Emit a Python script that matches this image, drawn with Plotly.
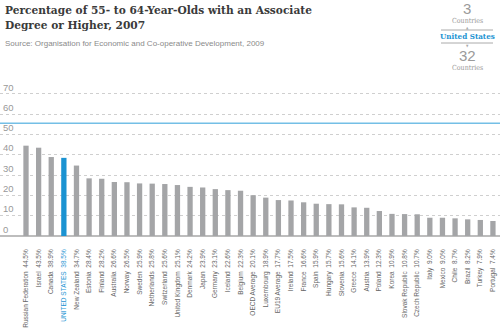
import plotly.graph_objects as go

countries = ["Russian Federation", "Israel", "Canada", "UNITED STATES", "New Zealand", "Estonia",
             "Finland", "Australia", "Norway", "Sweden", "Netherlands", "Switzerland",
             "United Kingdom", "Denmark", "Japan", "Germany", "Iceland", "Belgium",
             "OECD Average", "Luxembourg", "EU19 Average", "Ireland", "France", "Spain",
             "Hungary", "Slovenia", "Greece", "Austria", "Poland", "Korea",
             "Slovak Republic", "Czech Republic", "Italy", "Mexico", "Chile", "Brazil",
             "Turkey", "Portugal"]
values = [44.5, 43.5, 38.9, 38.5, 34.7, 28.4, 28.2, 26.6, 26.5, 25.9, 25.8, 25.6,
          25.1, 24.2, 23.9, 23.1, 22.6, 22.3, 20.1, 18.9, 17.7, 17.5, 16.6, 15.9,
          15.7, 15.6, 14.1, 13.9, 12.3, 10.9, 10.8, 10.7, 9.0, 9.0, 8.7, 8.2, 7.9, 7.4]
highlight = "UNITED STATES"
reference_level = 55.5
y_ticks = [0, 10, 20, 30, 40, 50, 60, 70]

GRAY = "#a4a5a7"
BLUE = "#1b93d2"
LINE_BLUE = "#74bfe6"

W, H = 500, 333
M_T, M_B, M_L, M_R = 78, 97, 0, 0
PH = H - M_T - M_B
Y_MAX = PH / 2.03


def py(ypx):
    return 1 - (ypx - M_T) / PH


def px(xpx):
    return xpx / W


colors = [BLUE if c == highlight else GRAY for c in countries]
ticktext = []
for c, v in zip(countries, values):
    t = f"{c}\u00a0 {v:.1f}%"
    if c == highlight:
        t = f"<span style='color:{BLUE}'>{t}</span>"
    ticktext.append(t)

fig = go.Figure()
fig.add_trace(go.Bar(x=list(range(len(countries))), y=values, marker_color=colors,
                     marker_line_width=0, width=0.42))

fig.add_hline(y=reference_level, line_color=LINE_BLUE, line_width=1.5)

fig.update_layout(
    width=W, height=H,
    margin=dict(l=M_L, r=M_R, t=M_T, b=M_B, autoexpand=False),
    paper_bgcolor="white", plot_bgcolor="white",
    showlegend=False,
    font=dict(family="Liberation Sans Narrow, Arial Narrow, sans-serif", color="#777"),
    xaxis=dict(range=[-2.06, 37.56], tickmode="array", tickvals=list(range(len(countries))),
               ticktext=ticktext, tickangle=-90, ticks="", showgrid=False, zeroline=False,
               tickfont=dict(size=6.5, color="#666"), ticklabelstandoff=11, automargin=False,
               showline=False, fixedrange=True),
    yaxis=dict(range=[0, Y_MAX], tickvals=y_ticks, ticks="", showgrid=True,
               gridcolor="#cfcfcf", griddash="dot", gridwidth=1, automargin=False,
               zeroline=True, zerolinecolor="#bdbdbd", zerolinewidth=1.5,
               ticklabelposition="inside top", tickfont=dict(size=9.5, color="#999"),
               showline=False),
)

# Title and source
fig.add_annotation(text="Percentage of 55- to 64-Year-Olds with an Associate<br>Degree or Higher, 2007",
                   x=px(3), y=py(1), xref="paper", yref="paper", xanchor="left", yanchor="top",
                   showarrow=False, align="left",
                   font=dict(family="DejaVu Serif Condensed, DejaVu Serif, serif", size=11.8,
                             color="#3a3a3a", weight="bold"))
fig.add_annotation(text="Source: Organisation for Economic and Co-operative Development, 2009",
                   x=px(3), y=py(44), xref="paper", yref="paper", xanchor="left", yanchor="middle",
                   showarrow=False,
                   font=dict(family="Liberation Sans Narrow, Arial Narrow, sans-serif", size=8,
                             color="#8a8a8a"))

# Right navigation widget
cx = px(467)
def ann(text, ypx, size, color, family="DejaVu Serif Condensed, DejaVu Serif, serif", weight="normal"):
    fig.add_annotation(text=text, x=cx, y=py(ypx), xref="paper", yref="paper",
                       xanchor="center", yanchor="middle", showarrow=False,
                       font=dict(family=family, size=size, color=color, weight=weight))

ann("3", 8, 15, "#9a9a9a", family="Liberation Sans, sans-serif")
ann("Countries", 21, 7, "#999")
ann("▲", 27.5, 3.5, "#aaa")
ann("United States", 36.5, 8, BLUE, weight="bold")
ann("▼", 45.5, 3.5, "#aaa")
ann("32", 55.5, 15, "#9a9a9a", family="Liberation Sans, sans-serif")
ann("Countries", 68.5, 7, "#999")
for ypx in (30, 43):
    fig.add_shape(type="line", xref="paper", yref="paper", x0=px(441), x1=px(493),
                  y0=py(ypx), y1=py(ypx), line=dict(color="#aaa", width=1))

fig.write_html("out.html")
